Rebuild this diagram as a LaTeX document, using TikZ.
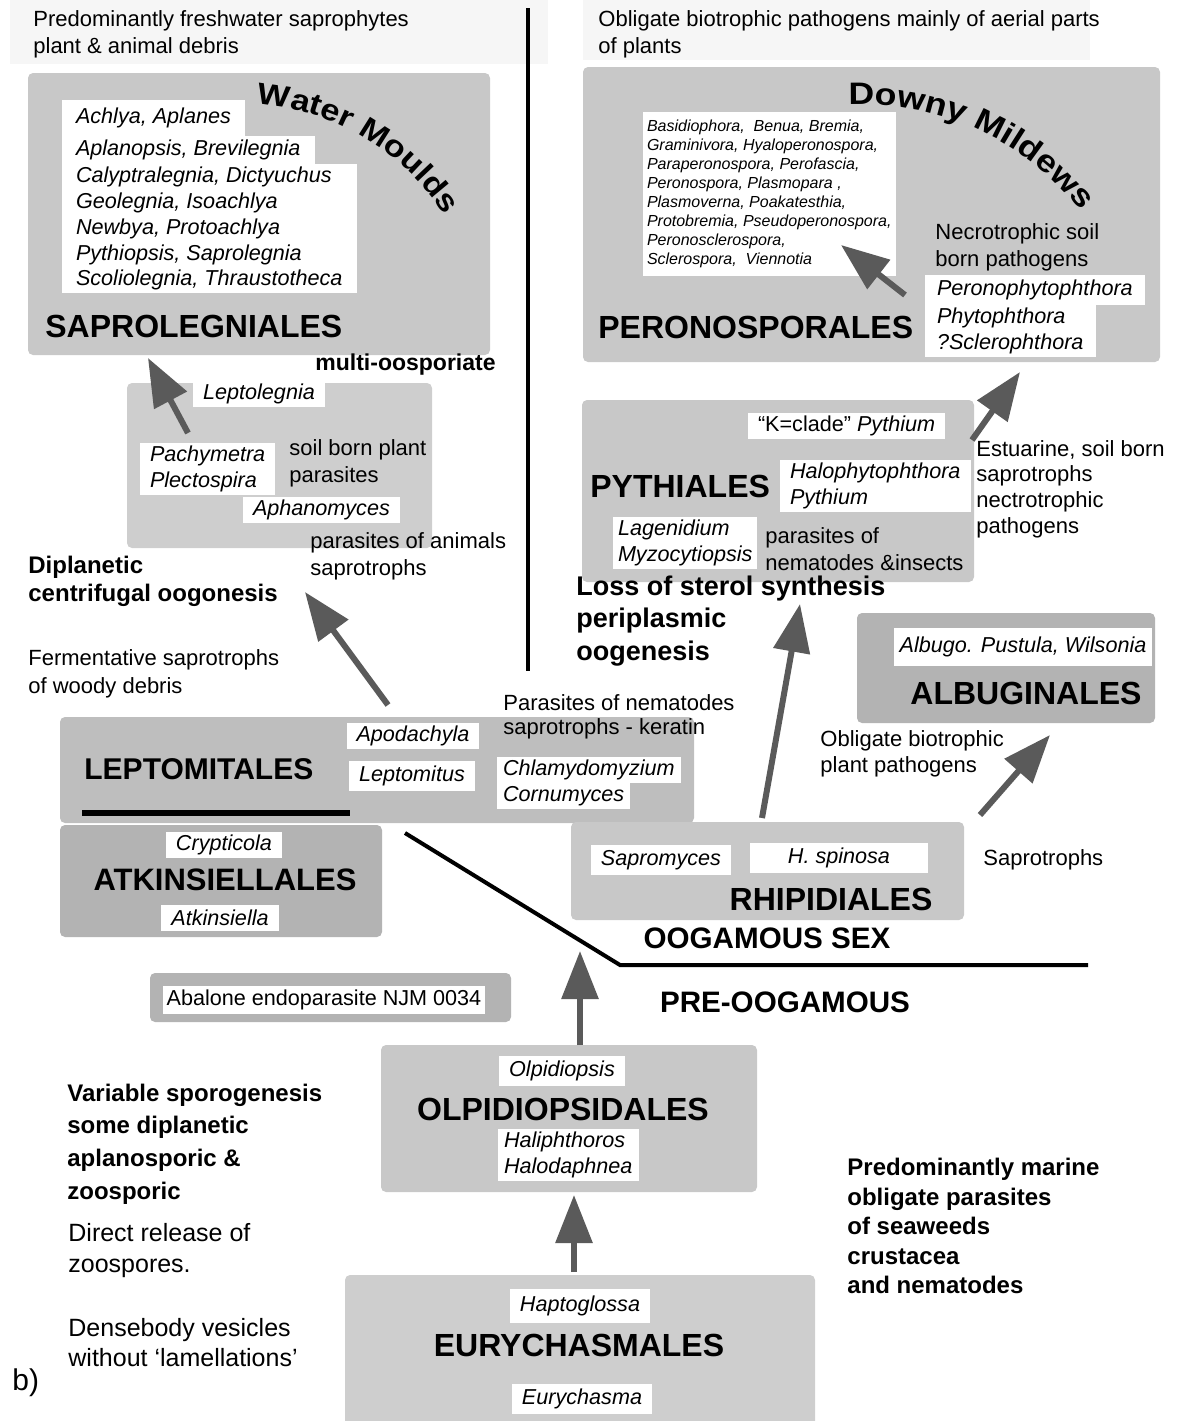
\documentclass[tikz,border=0pt]{standalone}
\usepackage{fontspec}
\setmainfont{Liberation Sans}
\newfontfamily\arcfont[FakeStretch=1.15]{Liberation Sans}
\newcommand\waterfont{\arcfont\bfseries\fontsize{15}{15}\selectfont}
\newcommand\mildewfont{\arcfont\bfseries\fontsize{15.5}{15.5}\selectfont}
\usetikzlibrary{positioning, fit, arrows.meta, decorations.text}
\definecolor{boxgray}{HTML}{C8C8C8}
\definecolor{lightbox}{HTML}{CECECE}
\definecolor{midbox}{HTML}{BEBEBE}
\definecolor{darkbox}{HTML}{B3B3B3}
\definecolor{arrowgray}{HTML}{5A5A5A}
\definecolor{paper}{HTML}{F6F6F6}
\tikzset{
box/.style={fill=boxgray, rounded corners=2.5pt, inner sep=0pt}, % grey panel of an order
genus/.style={fill=white, outer sep=0pt, inner xsep=5pt, inner ysep=1.5pt, align=left, font=\fontsize{10.8}{13}\selectfont\itshape}, % white label with genera
note/.style={inner sep=0pt, anchor=west, align=left, font=\fontsize{11}{13.5}\selectfont}, % plain remark
bnote/.style={note, font=\fontsize{12}{14}\selectfont\bfseries}, % bold remark
order/.style={inner sep=0pt, font=\fontsize{16}{19}\selectfont\bfseries}, % name of an order
sexline/.style={inner sep=0pt, font=\fontsize{14.8}{17}\selectfont\bfseries}, % oogamous / pre-oogamous
evo/.style={draw=arrowgray, line width=3pt, -{Triangle[length=24pt, width=18pt]}}, % thick grey arrow
rule/.style={line width=2pt}, % black dividing line
}

\begin{document}
\begin{tikzpicture}[x=0.5pt, y=-0.5pt]
\useasboundingbox (0,0) rectangle (1177,1421);

% pale bands behind the headings
\fill[paper] (10,0) rectangle (548,64);
\fill[paper] (583,0) rectangle (1090,60);

% grey panels
\node[box, fit={(28,73) (490,355)}] (sapro) {};
\node[box, fit={(583,67) (1160,362)}] (perono) {};
\node[box, fill=lightbox, fit={(127,383) (432,548)}] (leptol) {};
\node[box, fit={(582,400) (974,582)}] (pyth) {};
\node[box, fill=darkbox, fit={(857,613) (1155,723)}] (albu) {};
\node[box, fill=midbox, fit={(60,717) (694,823)}] (leptom) {};
\node[box, fill=darkbox, fit={(60,825) (382,937)}] (atkin) {};
\node[box, fit={(571,822) (964,920)}] (rhipi) {};
\node[box, fill=darkbox, fit={(150,973) (511,1022)}] (abal) {};
\node[box, fit={(381,1045) (757,1192)}] (olpi) {};
\node[box, fill=lightbox, fit={(345,1275) (815,1430)}] (eury) {};

% top headings
\node[note] (fresh) at (33,34) {Predominantly freshwater saprophytes\\plant \& animal debris};
\node[note] (aerial) at (598,34) {Obligate biotrophic pathogens mainly of aerial parts\\of plants};

% Saprolegniales
\path[decorate, decoration={text along path, text={|\waterfont|Water Moulds}}]
  (256.9,104) arc[start angle=-86, end angle=-15, radius=243];
\node[genus, anchor=north west, inner xsep=7pt, minimum height=18pt] (sg1) at (62,100) {Achlya, Aplanes};
\node[genus, anchor=north west, inner xsep=7pt, inner ysep=2pt] (sg2) at (sg1.south west) {Aplanopsis, Brevilegnia};
\node[genus, anchor=north west, inner xsep=7pt, inner ysep=1.5pt, font=\fontsize{10.8}{12.9}\selectfont\itshape] (sg3) at (sg2.south west)
  {Calyptralegnia, Dictyuchus\\Geolegnia, Isoachlya\\Newbya, Protoachlya\\Pythiopsis, Saprolegnia\\Scoliolegnia, Thraustotheca};
\node[order, anchor=west] (sapron) at (45,326) {SAPROLEGNIALES};
\node[bnote, font=\fontsize{11.5}{14}\selectfont\bfseries] (multi) at (315,365) {multi-oosporiate};

% Peronosporales
\path[decorate, decoration={text along path, text={|\mildewfont|Downy Mildews}}]
  (848.6,104.9) arc[start angle=-93, end angle=-25, radius=275.5];
\node[genus, anchor=north west, inner xsep=2pt, inner ysep=4pt, font=\fontsize{8}{9.5}\selectfont\itshape] (pg) at (643,112)
  {Basidiophora,~ Benua, Bremia,\\Graminivora, Hyaloperonospora,\\Paraperonospora, Perofascia,\\Peronospora, Plasmopara ,\\Plasmoverna, Poakatesthia,\\Protobremia, Pseudoperonospora,\\Peronosclerospora,\\Sclerospora,~ Viennotia};
\node[note] (necro) at (935,247) {Necrotrophic soil\\born pathogens};
\node[genus, anchor=north west, inner xsep=6pt, inner ysep=2.5pt] (ph1) at (925,275) {Peronophytophthora};
\node[genus, anchor=north west, inner xsep=6pt] (ph2) at (ph1.south west) {Phytophthora\\?Sclerophthora};
\node[order, anchor=west] (peronon) at (598,327) {PERONOSPORALES};

% Leptolegnia group
\node[genus] (lg) at (259,394) {Leptolegnia};
\node[genus, anchor=north west] (pachy) at (140,443) {Pachymetra\\Plectospira};
\node[note] (soil) at (289,463) {soil born plant\\parasites};
\node[genus, anchor=north west] (aphan) at (243,497) {Aphanomyces};
\node[note] (animals) at (310,556) {parasites of animals\\saprotrophs};
\node[bnote] (dipl) at (28,581) {Diplanetic\\centrifugal oogonesis};
\node[note, font=\fontsize{11}{14}\selectfont] (ferm) at (28,674) {Fermentative saprotrophs\\of woody debris};

% Pythiales
\node[genus, anchor=north west] (kclade) at (748,413) {{\upshape “K=clade”} Pythium};
\node[order, anchor=west] (pythn) at (590,486) {PYTHIALES};
\node[genus, anchor=north west] (halo) at (780,460) {Halophytophthora\\Pythium};
\node[genus, anchor=north west, inner xsep=2.5pt] (lagen) at (613,517) {Lagenidium\\Myzocytiopsis};
\node[note] (nema) at (765,549) {parasites of\\nematodes \&insects};
\node[note, font=\fontsize{11}{12.9}\selectfont] (estu) at (976,489) {Estuarine, soil born\\saprotrophs\\nectrotrophic\\pathogens};
\node[bnote, font=\fontsize{13.5}{16.2}\selectfont\bfseries] (sterol) at (576,621) {Loss of sterol synthesis\\periplasmic\\oogenesis};

% Albuginales
\node[genus, inner xsep=3pt, inner ysep=4.5pt] (albg) at (1023,647) {Albugo. Pustula, Wilsonia};
\node[order] (albun) at (1026,693) {ALBUGINALES};
\node[note, font=\fontsize{11}{13}\selectfont] (plantp) at (820,754) {Obligate biotrophic\\plant pathogens};

% Leptomitales and Atkinsiellales
\node[note, font=\fontsize{11}{12}\selectfont] (kera) at (503,717) {Parasites of nematodes\\saprotrophs - keratin};
\node[order, anchor=west, font=\fontsize{15}{18}\selectfont\bfseries] (leptomn) at (84,769) {LEPTOMITALES};
\node[genus] (apod) at (413,736) {Apodachyla};
\node[genus, inner ysep=2.5pt] (leptus) at (412,776) {Leptomitus};
\node[genus, anchor=north west, inner xsep=3pt] (chlam) at (497,757) {Chlamydomyzium};
\node[genus, anchor=north west, inner xsep=3pt] (cornu) at (chlam.south west) {Cornumyces};
\draw[line width=3pt] (82,813) -- (350,813);
\node[genus] (crypt) at (224,845) {Crypticola};
\node[order, font=\fontsize{15.5}{18}\selectfont\bfseries] (atkinn) at (225,880) {ATKINSIELLALES};
\node[genus, inner ysep=2.5pt] (atkg) at (220,918) {Atkinsiella};

% Rhipidiales
\node[genus, inner ysep=2.5pt] (sapg) at (661,860) {Sapromyces};
\node[genus, minimum width=89pt, minimum height=15pt] (hsp) at (839,858) {H. spinosa};
\node[order] (rhipin) at (831,899) {RHIPIDIALES};
\node[note] (saprot) at (983,860) {Saprotrophs};

% dividing lines
\draw[rule] (528,8) -- (528,671);
\draw[rule] (405,833) -- (620,965) -- (1088,965);
\node[sexline] (oog) at (767,938) {OOGAMOUS SEX};
\node[sexline] (preoog) at (785,1002) {PRE-OOGAMOUS};

% Abalone endoparasite
\node[genus, inner xsep=2pt, inner ysep=2pt, font=\fontsize{10.8}{13}\selectfont] (abalg) at (324,1000) {Abalone endoparasite NJM 0034};

% Olpidiopsidales
\node[genus, inner ysep=2.5pt] (olpg) at (562,1071) {Olpidiopsis};
\node[order] (olpin) at (563,1109) {OLPIDIOPSIDALES};
\node[genus, anchor=north west, inner xsep=3pt] (halip) at (498,1129) {Haliphthoros\\Halodaphnea};

% Eurychasmales
\node[genus, inner ysep=3.5pt] (hapto) at (580,1306) {Haptoglossa};
\node[order] (euryn) at (579,1345) {EURYCHASMALES};
\node[genus, inner ysep=2.5pt] (euryg) at (582,1399) {Eurychasma};

% remarks at the foot
\node[bnote, font=\fontsize{12}{16.3}\selectfont\bfseries] (spor) at (67,1144) {Variable sporogenesis\\some diplanetic\\aplanosporic \&\\zoosporic};
\node[note, font=\fontsize{12.5}{15.5}\selectfont] (direct) at (68,1251) {Direct release of\\zoospores.};
\node[note, font=\fontsize{12.5}{15}\selectfont] (dense) at (68,1343) {Densebody vesicles\\without ‘lamellations’};
\node[note, font=\fontsize{15}{18}\selectfont] (panel) at (12,1383) {b)};
\node[bnote, font=\fontsize{12}{14.75}\selectfont\bfseries] (marine) at (847,1226) {Predominantly marine\\obligate parasites\\of seaweeds\\crustacea\\and nematodes};

% arrow ends
\coordinate (lgout) at (188,433);
\coordinate (saproin) at (148,358);
\coordinate (leptomout) at (388,705);
\coordinate (lgin) at (305,592);
\coordinate (rhipout) at (762,818);
\coordinate (pythin) at (800,604);
\coordinate (pythout) at (972,440);
\coordinate (peronoin) at (1020,372);
\coordinate (phout) at (905,295);
\coordinate (pgin) at (841,245);
\coordinate (albout) at (980,815);
\coordinate (albin) at (1050,735);
\coordinate (olpiout) at (580,1045);
\coordinate (oogin) at (580,951);
\coordinate (euryout) at (574,1272);
\coordinate (olpiin) at (574,1195);

\draw[evo] (lgout) -- (saproin);
\draw[evo] (leptomout) -- (lgin);
\draw[evo] (rhipout) -- (pythin);
\draw[evo] (pythout) -- (peronoin);
\draw[evo] (phout) -- (pgin);
\draw[evo] (albout) -- (albin);
\draw[evo] (olpiout) -- (oogin);
\draw[evo] (euryout) -- (olpiin);
\end{tikzpicture}
\end{document}
